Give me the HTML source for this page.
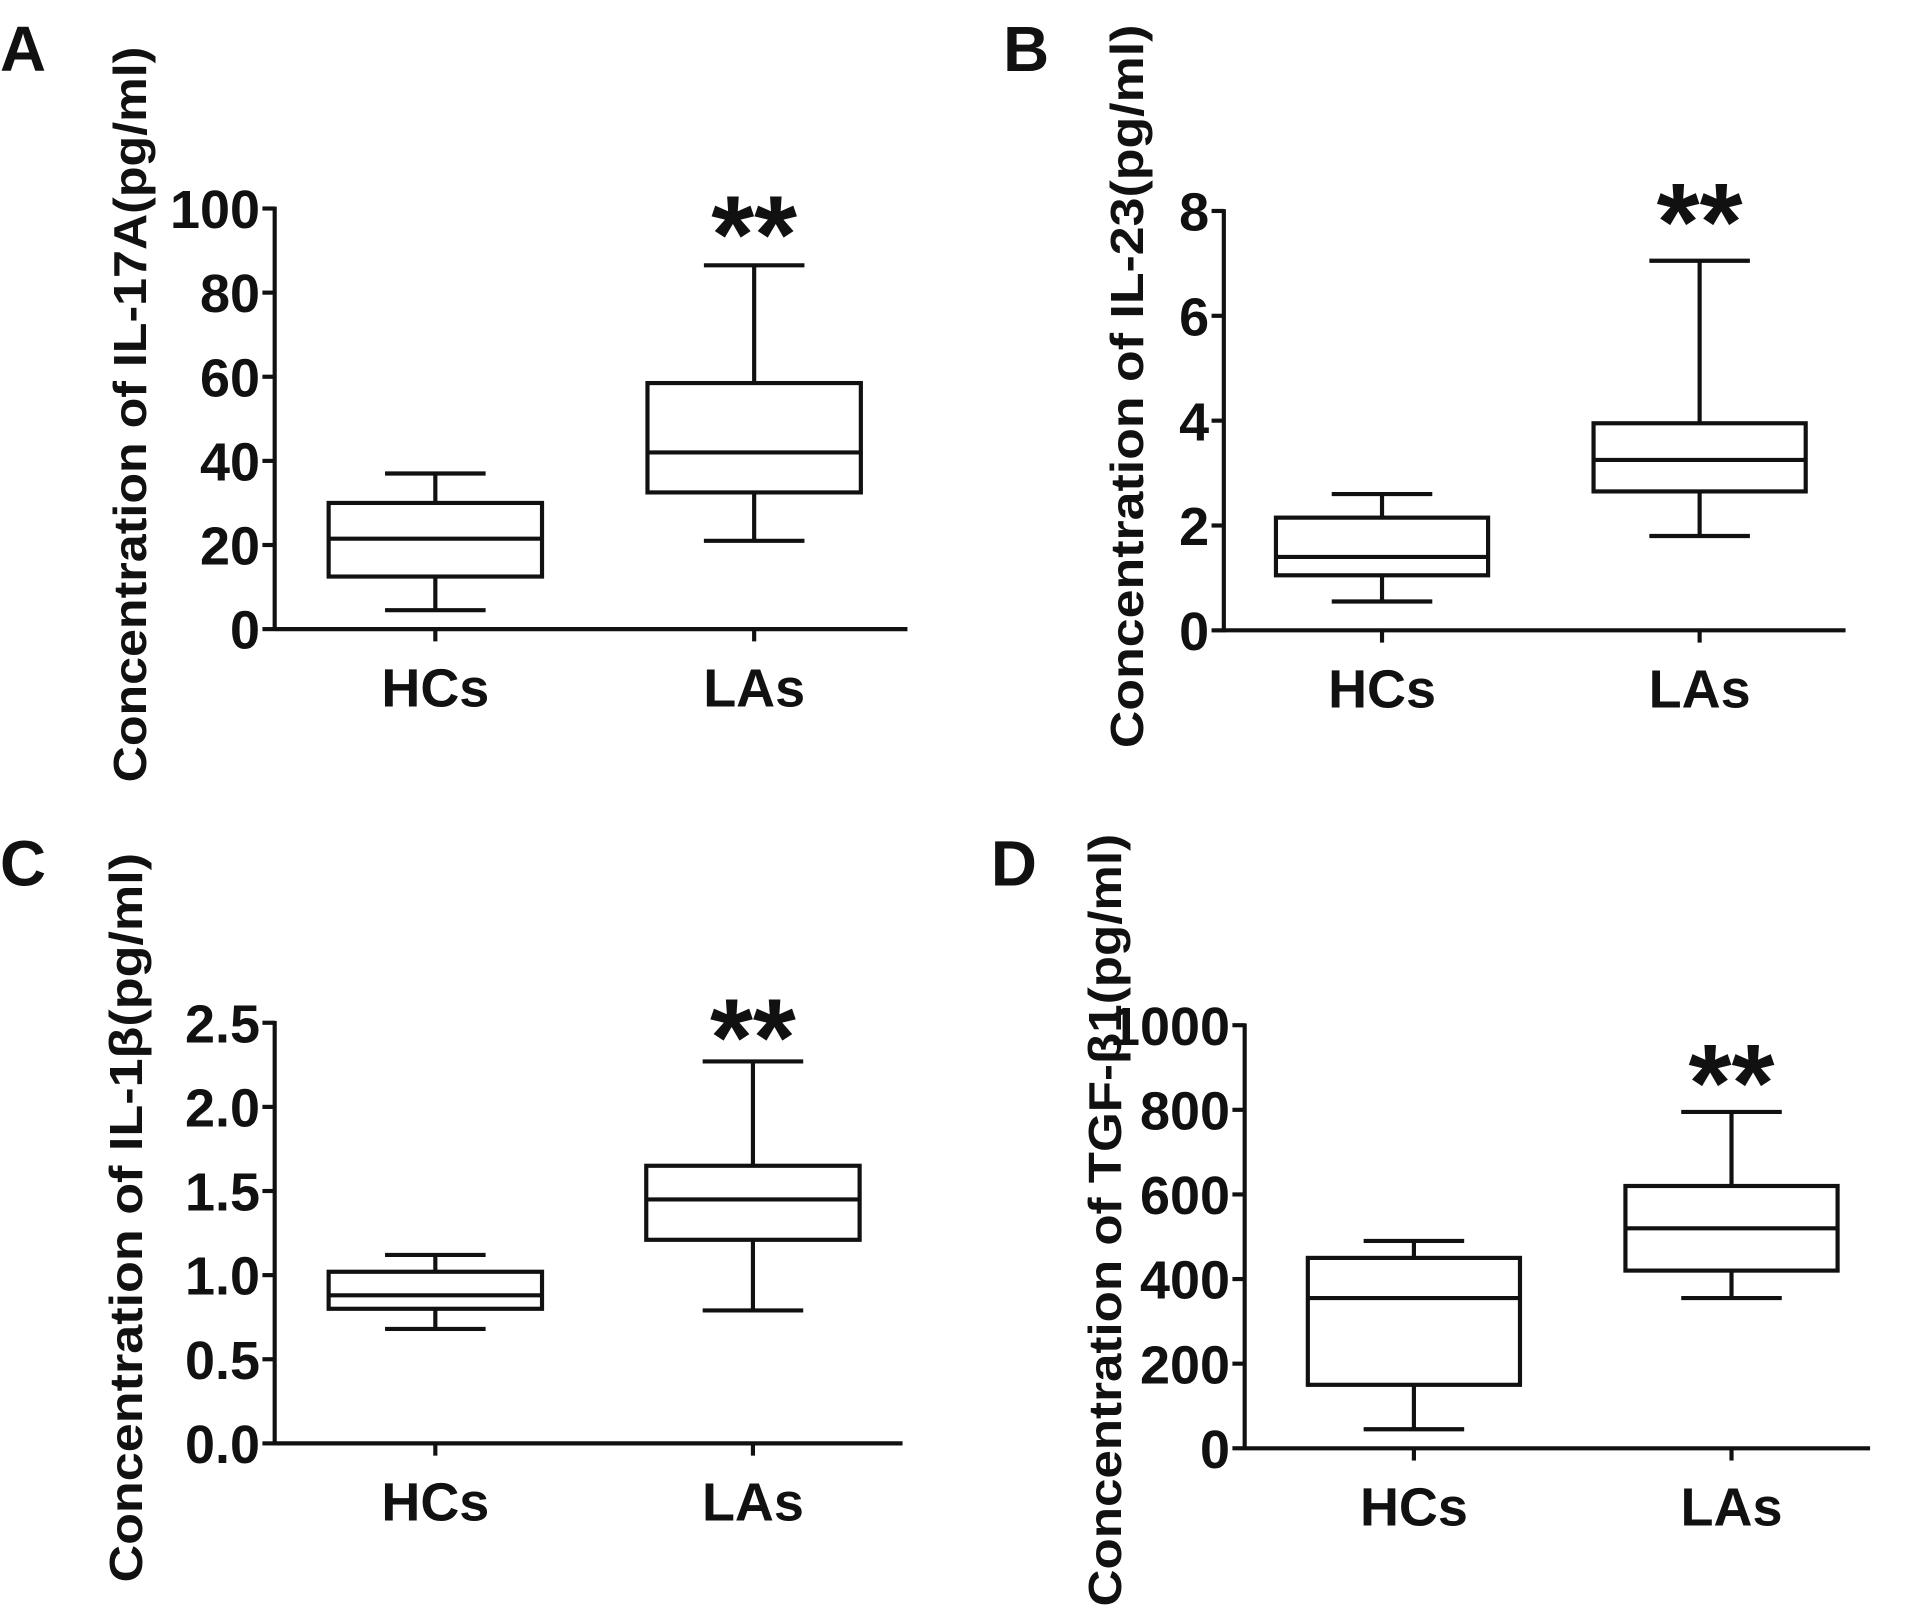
<!DOCTYPE html>
<html><head><meta charset="utf-8"><style>
html,body{margin:0;padding:0;background:#fff;}
svg{display:block;}
text{font-family:"Liberation Sans",Arial,sans-serif;font-weight:bold;fill:#111;}
</style></head><body>
<svg id="fig" width="1913" height="1620" viewBox="0 0 1560 1321" xmlns="http://www.w3.org/2000/svg"></svg>
<script>
const categories = ["HCs", "LAs"];
// [min, q1, median, q3, max]
const boxA = [[4.5, 12.5, 21.5, 30, 37], [21, 32.5, 42, 58.5, 86.5]];
const boxB = [[0.55, 1.05, 1.4, 2.15, 2.6], [1.8, 2.65, 3.25, 3.95, 7.05]];
const boxC = [[0.68, 0.8, 0.88, 1.02, 1.12], [0.79, 1.21, 1.45, 1.65, 2.27]];
const boxD = [[45, 150, 355, 450, 490], [355, 420, 520, 620, 795]];
const ticksA = [0, 20, 40, 60, 80, 100];
const ticksB = [0, 2, 4, 6, 8];
const ticksC = ["0.0", "0.5", "1.0", "1.5", "2.0", "2.5"];
const ticksD = [0, 200, 400, 600, 800, 1000];

const NS = "http://www.w3.org/2000/svg";
const svg = document.getElementById("fig");
function el(tag, attrs, parent) {
  const e = document.createElementNS(NS, tag);
  for (const k in attrs) e.setAttribute(k, attrs[k]);
  (parent || svg).appendChild(e);
  return e;
}
const SW = 3.4;
function panel(cfg) {
  const g = el("g", {});
  
  
  const ticks = cfg.ticks;
  const tmax = parseFloat(ticks[ticks.length - 1]);
  const y = v => cfg.y0 - (v / tmax) * (cfg.y0 - cfg.yTop);
  const lt = el("text", {x: cfg.lx, y: cfg.ly, "font-size": 52}, g);
  lt.textContent = cfg.letter;
  
  
  const yt = el("text", {transform: `translate(${cfg.tx},${cfg.tyc}) rotate(-90)`, "text-anchor": "middle", "font-size": 38, textLength: cfg.tlen, lengthAdjust: "spacingAndGlyphs"}, g);
  yt.textContent = cfg.title;
  
  
  const ya = el("line", {x1: cfg.ax, x2: cfg.ax, y1: y(tmax) - 1.5, y2: cfg.y0 + 1.5, stroke: "#111", "stroke-width": SW}, g);
  
  
  const xa = el("line", {x1: cfg.ax, x2: cfg.axEnd, y1: cfg.y0, y2: cfg.y0, stroke: "#111", "stroke-width": SW}, g);
  
  
  ticks.forEach(t => {
    const v = parseFloat(t);
    const tk = el("line", {x1: cfg.ax - 10, x2: cfg.ax, y1: y(v), y2: y(v), stroke: "#111", "stroke-width": SW}, g);
    
    
    const tl = el("text", {x: cfg.ax - 12, y: y(v) + 16, "text-anchor": "end", "font-size": 44}, g);
    tl.textContent = t;
    
    
  });
  cfg.data.forEach((d, i) => {
    const cx = cfg.cx[i];
    const hw = cfg.bw / 2, cw = 41;
    const xt = el("line", {x1: cx, x2: cx, y1: cfg.y0, y2: cfg.y0 + 10, stroke: "#111", "stroke-width": SW}, g);
    
    
    const xl = el("text", {x: cx, y: cfg.y0 + 63, "text-anchor": "middle", "font-size": 44}, g);
    xl.textContent = categories[i];
    
    
    const bg = el("g", {stroke: "#111", "stroke-width": SW, fill: "none"}, g);
    
    
    el("line", {x1: cx, x2: cx, y1: y(d[0]), y2: y(d[1])}, bg);
    el("line", {x1: cx, x2: cx, y1: y(d[3]), y2: y(d[4])}, bg);
    el("line", {x1: cx - cw, x2: cx + cw, y1: y(d[0]), y2: y(d[0])}, bg);
    el("line", {x1: cx - cw, x2: cx + cw, y1: y(d[4]), y2: y(d[4])}, bg);
    el("rect", {x: cx - hw, y: y(d[3]), width: cfg.bw, height: y(d[1]) - y(d[3])}, bg);
    el("line", {x1: cx - hw, x2: cx + hw, y1: y(d[2]), y2: y(d[2])}, bg);
  });
  const st = el("text", {x: cfg.cx[1], y: cfg.starY, "text-anchor": "middle", "font-size": 90}, g);
  st.textContent = "**";
  
  
}
panel({letter: "A", lx: 0, ly: 58, data: boxA, ticks: ticksA, ax: 224, axEnd: 740, yTop: 170, y0: 513, cx: [355, 615], bw: 174,
  tx: 119, tyc: 338, tlen: 600, title: "Concentration of IL-17A(pg/ml)", starY: 222});
panel({letter: "B", lx: 818, ly: 58, data: boxB, ticks: ticksB, ax: 998, axEnd: 1505, yTop: 172, y0: 514, cx: [1127, 1386], bw: 173,
  tx: 932, tyc: 315, tlen: 590, title: "Concentration of IL-23(pg/ml)", starY: 212});
panel({letter: "C", lx: 0, ly: 722, data: boxC, ticks: ticksC, ax: 224, axEnd: 736, yTop: 834, y0: 1177, cx: [355, 614], bw: 174,
  tx: 116, tyc: 993, tlen: 595, title: "Concentration of IL-1\u03b2(pg/ml)", starY: 877});
panel({letter: "D", lx: 808, ly: 722, data: boxD, ticks: ticksD, ax: 1015, axEnd: 1525, yTop: 836, y0: 1181, cx: [1153, 1412], bw: 173,
  tx: 914, tyc: 995, tlen: 630, title: "Concentration of TGF-\u03b21(pg/ml)", starY: 914});
</script>
</body></html>
